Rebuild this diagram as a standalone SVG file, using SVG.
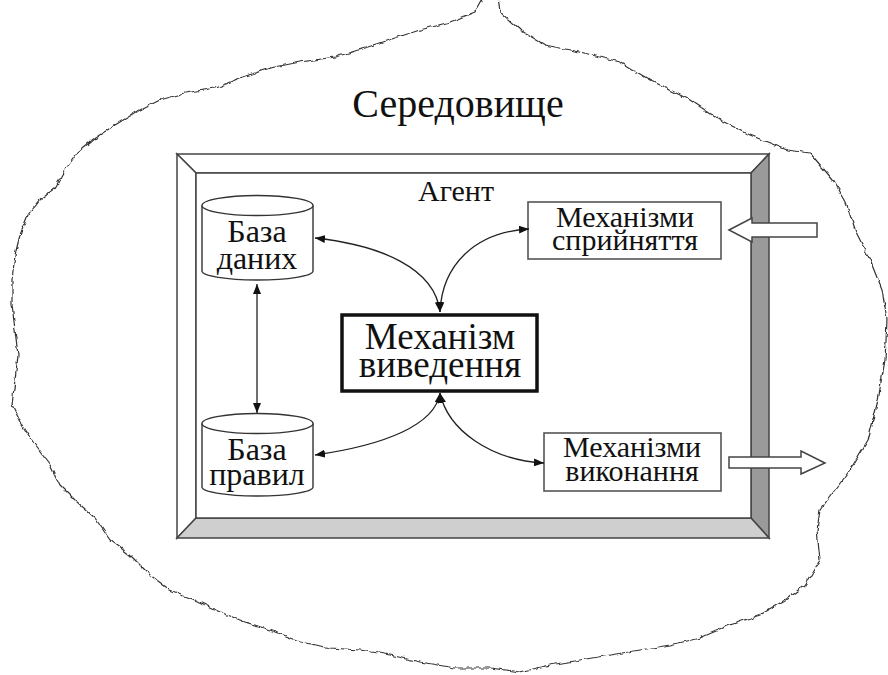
<svg xmlns="http://www.w3.org/2000/svg" width="888" height="675" viewBox="0 0 888 675">
<style>
text{font-family:"Liberation Serif",serif !important;fill:#111;text-anchor:middle}
.fr{stroke:#444;stroke-width:1.5;stroke-linejoin:miter}
.box{fill:#fff;stroke:#555;stroke-width:1.6}
.con{fill:none;stroke:#222;stroke-width:1.3}
.cyl{fill:#fff;stroke:#333;stroke-width:1.4}
.hol{fill:#fff;stroke:#444;stroke-width:1.5;stroke-linejoin:miter}
</style>
<defs>
<marker id="ae" viewBox="0 0 10 8" refX="10" refY="4" markerWidth="10" markerHeight="8" markerUnits="userSpaceOnUse" orient="auto">
<path d="M0,0 L10,4 L0,8 z" fill="#111"/>
</marker>
<marker id="as" viewBox="0 0 10 8" refX="0" refY="4" markerWidth="10" markerHeight="8" markerUnits="userSpaceOnUse" orient="auto">
<path d="M10,0 L0,4 L10,8 z" fill="#111"/>
</marker>
<filter id="wob" filterUnits="userSpaceOnUse" x="-30" y="-30" width="950" height="740">
<feTurbulence type="fractalNoise" baseFrequency="0.12" numOctaves="2" seed="5" result="n"/>
<feDisplacementMap in="SourceGraphic" in2="n" scale="5" xChannelSelector="R" yChannelSelector="G"/>
</filter>
</defs>
<rect width="888" height="675" fill="#fff"/>
<g id="environment">
<path filter="url(#wob)" fill="none" stroke="#333" stroke-width="1.2" stroke-linejoin="round" d="M484,-4 L475,12 L450,22 L420,30 L395,38 L365,48 L335,57 L300,62 L270,68 L240,78 L215,88 L185,93 L160,100 L140,110 L115,125 L95,138 L78,152 L65,170 L55,188 L40,200 L28,215 L20,235 L15,255 L12,280 L12,305 L15,330 L18,355 L15,380 L12,405 L22,425 L35,445 L50,465 L60,485 L75,500 L95,518 L110,540 L130,555 L150,575 L170,590 L195,600 L220,612 L245,622 L270,630 L300,642 L330,648 L360,650 L390,655 L420,662 L455,668 L490,668 L520,672 L550,665 L580,660 L610,655 L640,650 L670,645 L700,638 L730,625 L760,615 L785,600 L805,585 L820,560 L817,530 L820,510 L835,490 L850,470 L868,440 L878,400 L885,360 L887,320 L882,290 L870,260 L855,230 L845,200 L833,180 L810,153 L787,150 L750,135 L720,120 L690,100 L650,80 L620,62 L580,52 L545,45 L520,30 L500,12 L498,-4"/>
<text font-family="Liberation Serif" x="458" y="117" font-size="40">Середовище</text>
</g>
<g id="agent">
<rect x="177" y="154" width="592" height="384" fill="#fff"/>
<polygon class="fr" points="177,154 769,154 751,173 196,173" fill="#fff"/>
<polygon class="fr" points="177,154 196,173 196,518 177,538" fill="#fff"/>
<polygon class="fr" points="769,154 769,538 751,518 751,173" fill="#9a9a9a"/>
<polygon class="fr" points="177,538 769,538 751,518 196,518" fill="#cfcfcf"/>
<rect class="fr" x="196" y="173" width="555" height="345" fill="#fff"/>
<text font-family="Liberation Serif" x="456" y="201" font-size="30">Агент</text>
</g>
<g id="database">
<path class="cyl" d="M202,205.5 L202,271 A55.5,9 0 0 0 313,271 L313,205.5"/>
<ellipse class="cyl" cx="257.5" cy="205.5" rx="55.5" ry="10"/>
<text font-family="Liberation Serif" x="257" y="242" font-size="32">База</text>
<text font-family="Liberation Serif" x="257" y="269" font-size="32">даних</text>
</g>
<g id="rules">
<path class="cyl" d="M202,423.5 L202,487 A55.5,9 0 0 0 313,487 L313,423.5"/>
<ellipse class="cyl" cx="257.5" cy="423.5" rx="55.5" ry="10"/>
<text font-family="Liberation Serif" x="257" y="460" font-size="32">База</text>
<text font-family="Liberation Serif" x="257" y="485" font-size="32">правил</text>
</g>
<g id="inference">
<rect x="342" y="315" width="195" height="76" fill="#fff" stroke="#111" stroke-width="3.5"/>
<text font-family="Liberation Serif" x="440" y="349" font-size="37">Механізм</text>
<text font-family="Liberation Serif" x="440" y="377" font-size="37">виведення</text>
</g>
<g id="perception">
<rect class="box" x="528" y="202" width="193" height="57"/>
<text font-family="Liberation Serif" x="625" y="227" font-size="30">Механізми</text>
<text font-family="Liberation Serif" x="625" y="250" font-size="30">сприйняття</text>
</g>
<g id="execution">
<rect class="box" x="544" y="433" width="177" height="58"/>
<text font-family="Liberation Serif" x="632" y="457" font-size="30">Механізми</text>
<text font-family="Liberation Serif" x="632" y="481" font-size="30">виконання</text>
</g>
<g id="connectors">
<path class="con" d="M315,238 C380,245 435,268 440,312" marker-start="url(#as)" marker-end="url(#ae)"/>
<path class="con" d="M440,312 C442,265 475,232 529,229" marker-start="url(#as)" marker-end="url(#ae)"/>
<path class="con" d="M315,455 C385,445 435,425 440,393" marker-start="url(#as)" marker-end="url(#ae)"/>
<path class="con" d="M440,393 C448,430 490,460 544,463" marker-start="url(#as)" marker-end="url(#ae)"/>
<path class="con" d="M257,284 L257,413" marker-start="url(#as)" marker-end="url(#ae)"/>
<polygon class="hol" points="729,230 752,218 752,223 817,223 817,237 752,237 752,242"/>
<polygon class="hol" points="729,457 801,457 801,451 825,463 801,474 801,468 729,468"/>
</g>
</svg>
